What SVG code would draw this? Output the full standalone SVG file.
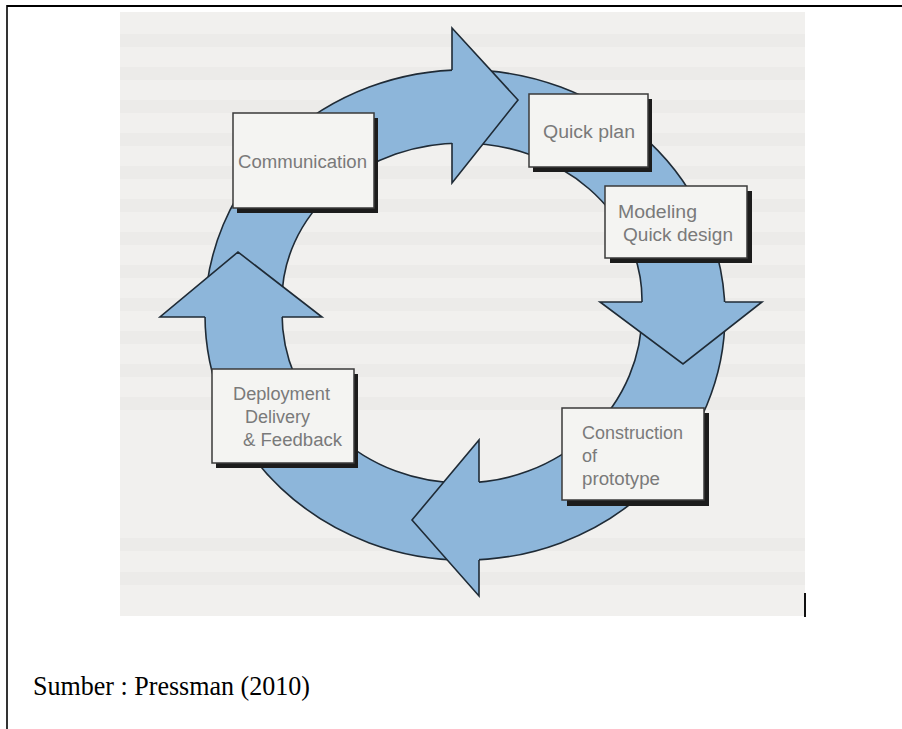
<svg xmlns="http://www.w3.org/2000/svg" width="902" height="729" viewBox="0 0 902 729">
<style>
.ring{fill:#8db6da;stroke:#1f2b36;stroke-width:1.6;fill-rule:evenodd}
.headfill{fill:#8db6da;stroke:none}
.headline{fill:none;stroke:#1f2b36;stroke-width:1.6;stroke-linejoin:miter;stroke-miterlimit:10}
.box{fill:#f4f4f2;stroke:#3a3a3a;stroke-width:1.5}
.shadow{fill:#1c1c1c}
.lbl{font-family:"Liberation Sans",Arial,sans-serif;font-size:18px;fill:#7a7a7a}
.band{fill:#000;opacity:0.018}
</style>
<rect x="0" y="0" width="902" height="729" fill="#ffffff"/>
<rect x="120" y="12" width="685" height="604" fill="#f1f0ee"/>
<g id="scan-texture">
<rect class="band" x="120" y="34" width="685" height="13"/>
<rect class="band" x="120" y="67" width="685" height="13"/>
<rect class="band" x="120" y="100" width="685" height="13"/>
<rect class="band" x="120" y="133" width="685" height="13"/>
<rect class="band" x="120" y="166" width="685" height="13"/>
<rect class="band" x="120" y="199" width="685" height="13"/>
<rect class="band" x="120" y="232" width="685" height="13"/>
<rect class="band" x="120" y="265" width="685" height="13"/>
<rect class="band" x="120" y="298" width="685" height="13"/>
<rect class="band" x="120" y="331" width="685" height="13"/>
<rect class="band" x="120" y="364" width="685" height="13"/>
<rect class="band" x="120" y="397" width="685" height="13"/>
<rect class="band" x="120" y="538" width="685" height="13"/>
<rect class="band" x="120" y="572" width="685" height="13"/>
</g>
<line x1="805" y1="593" x2="805" y2="617" stroke="#111" stroke-width="2"/>
<g id="frame">
<line x1="7" y1="6" x2="902" y2="6" stroke="#000" stroke-width="2"/>
<line x1="7" y1="5" x2="7" y2="729" stroke="#000" stroke-width="1.6"/>
</g>
<g id="connectors">
<path class="ring" d="M205 315 A260 245 0 1 1 725 315 A260 245 0 1 1 205 315 Z M282 300 A180 157 0 0 1 642 300 L642 313 A180 170 0 0 1 282 313 Z"/>
<polygon class="headfill" points="452,28 518,100 452,183"/>
<polyline class="headline" points="452,70 452,28 518,100 452,183 452,143"/>
<polygon class="headfill" points="600,302 683,364 762,302"/>
<polyline class="headline" points="642,302 600,302 683,364 762,302 725,302"/>
<polygon class="headfill" points="479,440 412,520 479,596"/>
<polyline class="headline" points="479,482 479,440 412,520 479,596 479,560"/>
<polygon class="headfill" points="160,317 238,252 322,317"/>
<polyline class="headline" points="205,317 160,317 238,252 322,317 282,317"/>
</g>
<g id="node-communication">
<rect class="shadow" x="237" y="118" width="141" height="95"/>
<rect class="box" x="233" y="113" width="141" height="95"/>
<text class="lbl" x="238" y="168" textLength="129" lengthAdjust="spacingAndGlyphs">Communication</text>
</g>
<g id="node-quickplan">
<rect class="shadow" x="533" y="99" width="119" height="73"/>
<rect class="box" x="529" y="94" width="119" height="73"/>
<text class="lbl" x="543" y="138" textLength="92" lengthAdjust="spacingAndGlyphs">Quick plan</text>
</g>
<g id="node-modeling">
<rect class="shadow" x="610" y="191" width="142" height="72"/>
<rect class="box" x="605" y="186" width="142" height="72"/>
<text class="lbl" x="618" y="218" textLength="79" lengthAdjust="spacingAndGlyphs">Modeling</text>
<text class="lbl" x="623" y="241" textLength="110" lengthAdjust="spacingAndGlyphs">Quick design</text>
</g>
<g id="node-construction">
<rect class="shadow" x="567" y="413" width="142" height="93"/>
<rect class="box" x="562" y="408" width="142" height="92"/>
<text class="lbl" x="582" y="439" textLength="101" lengthAdjust="spacingAndGlyphs">Construction</text>
<text class="lbl" x="582" y="462">of</text>
<text class="lbl" x="582" y="485" textLength="78" lengthAdjust="spacingAndGlyphs">prototype</text>
</g>
<g id="node-deployment">
<rect class="shadow" x="216" y="374" width="142" height="94"/>
<rect class="box" x="212" y="369" width="142" height="94"/>
<text class="lbl" x="233" y="400" textLength="97" lengthAdjust="spacingAndGlyphs">Deployment</text>
<text class="lbl" x="245" y="423" textLength="65" lengthAdjust="spacingAndGlyphs">Delivery</text>
<text class="lbl" x="243" y="446" textLength="99" lengthAdjust="spacingAndGlyphs">&amp; Feedback</text>
</g>
<text x="33" y="695" font-family="'Liberation Serif','Times New Roman',serif" font-size="27" fill="#000" textLength="277" lengthAdjust="spacingAndGlyphs">Sumber : Pressman (2010)</text>
</svg>
